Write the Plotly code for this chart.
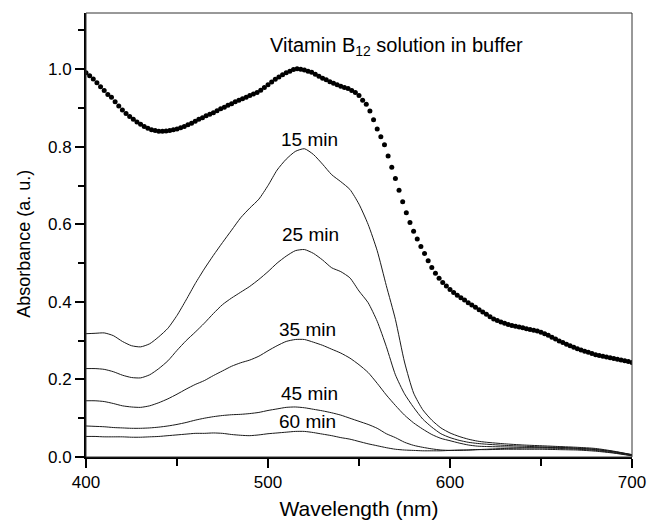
import plotly.graph_objects as go

# ---------------- data ----------------
wl_b12 = list(range(400, 701, 2))
abs_b12 = [
    0.991, 0.983, 0.975, 0.965, 0.955, 0.945, 0.935, 0.928, 0.916, 0.905,
    0.895, 0.886, 0.878, 0.871, 0.864, 0.858, 0.852, 0.848, 0.844, 0.842,
    0.840, 0.840, 0.841, 0.842, 0.844, 0.846, 0.849, 0.852, 0.857, 0.861,
    0.866, 0.871, 0.875, 0.880, 0.884, 0.888, 0.893, 0.898, 0.902, 0.907,
    0.911, 0.916, 0.920, 0.924, 0.928, 0.932, 0.936, 0.940, 0.946, 0.953,
    0.960, 0.967, 0.974, 0.980, 0.986, 0.991, 0.995, 0.999, 1.001, 1.000,
    0.998, 0.995, 0.992, 0.987, 0.982, 0.977, 0.973, 0.968, 0.964, 0.960,
    0.956, 0.953, 0.950, 0.945, 0.940, 0.932, 0.920, 0.910, 0.892, 0.870,
    0.846, 0.826, 0.805, 0.776, 0.747, 0.718, 0.688, 0.658, 0.630, 0.605,
    0.582, 0.562, 0.543, 0.525, 0.506, 0.489, 0.474, 0.461, 0.450, 0.441,
    0.432, 0.424, 0.417, 0.411, 0.405, 0.398, 0.392, 0.386, 0.380, 0.374,
    0.368, 0.362, 0.356, 0.352, 0.348, 0.345, 0.342, 0.339, 0.337, 0.335,
    0.333, 0.331, 0.329, 0.327, 0.325, 0.322, 0.318, 0.314, 0.309, 0.304,
    0.299, 0.295, 0.291, 0.287, 0.283, 0.279, 0.276, 0.273, 0.270, 0.267,
    0.264, 0.262, 0.260, 0.258, 0.256, 0.254, 0.252, 0.250, 0.248, 0.246,
    0.244, 0.242,
]

wl = [400, 405, 410, 415, 420, 425, 430, 435, 440, 445, 450, 455, 460, 465,
      470, 475, 480, 485, 490, 495, 500, 505, 510, 515, 520, 525, 530, 535,
      540, 545, 550, 555, 560, 565, 570, 575, 580, 585, 590, 595, 600, 605,
      610, 615, 620, 630, 640, 650, 660, 670, 680, 690, 700]

abs_15 = [0.318, 0.319, 0.320, 0.313, 0.298, 0.287, 0.284, 0.292, 0.310, 0.332,
          0.365, 0.405, 0.447, 0.485, 0.520, 0.553, 0.585, 0.617, 0.642, 0.665,
          0.700, 0.740, 0.768, 0.788, 0.795, 0.780, 0.755, 0.728, 0.710, 0.690,
          0.652, 0.600, 0.532, 0.442, 0.355, 0.245, 0.165, 0.122, 0.095, 0.075,
          0.062, 0.053, 0.046, 0.041, 0.038, 0.034, 0.031, 0.029, 0.027, 0.025,
          0.022, 0.015, 0.006]
abs_25 = [0.228, 0.228, 0.226, 0.220, 0.211, 0.205, 0.204, 0.212, 0.228, 0.248,
          0.275, 0.300, 0.322, 0.345, 0.370, 0.393, 0.410, 0.425, 0.440, 0.458,
          0.478, 0.500, 0.518, 0.532, 0.535, 0.525, 0.508, 0.488, 0.478, 0.462,
          0.428, 0.398, 0.350, 0.285, 0.212, 0.163, 0.128, 0.098, 0.077, 0.060,
          0.050, 0.043, 0.038, 0.035, 0.033, 0.030, 0.028, 0.026, 0.025, 0.023,
          0.020, 0.014, 0.006]
abs_35 = [0.145, 0.145, 0.143, 0.138, 0.132, 0.129, 0.128, 0.132, 0.140, 0.150,
          0.162, 0.175, 0.187, 0.197, 0.210, 0.222, 0.234, 0.243, 0.250, 0.260,
          0.274, 0.287, 0.298, 0.303, 0.303, 0.296, 0.288, 0.278, 0.268, 0.255,
          0.238, 0.218, 0.190, 0.160, 0.133, 0.108, 0.088, 0.072, 0.058, 0.048,
          0.042, 0.036, 0.031, 0.028, 0.027, 0.026, 0.025, 0.025, 0.024, 0.022,
          0.019, 0.013, 0.005]
abs_45 = [0.080, 0.079, 0.078, 0.076, 0.075, 0.074, 0.074, 0.075, 0.077, 0.080,
          0.084, 0.089, 0.095, 0.100, 0.104, 0.107, 0.109, 0.110, 0.112, 0.115,
          0.120, 0.124, 0.128, 0.129, 0.127, 0.123, 0.119, 0.114, 0.108, 0.100,
          0.092, 0.084, 0.074, 0.060, 0.050, 0.038, 0.030, 0.025, 0.021, 0.018,
          0.017, 0.017, 0.018, 0.019, 0.020, 0.022, 0.023, 0.023, 0.022, 0.020,
          0.017, 0.011, 0.004]
abs_60 = [0.053, 0.053, 0.052, 0.052, 0.052, 0.051, 0.051, 0.052, 0.053, 0.055,
          0.057, 0.059, 0.061, 0.061, 0.062, 0.061, 0.058, 0.056, 0.055, 0.057,
          0.060, 0.062, 0.064, 0.066, 0.066, 0.063, 0.059, 0.055, 0.050, 0.046,
          0.040, 0.034, 0.029, 0.024, 0.020, 0.018, 0.017, 0.016, 0.016, 0.016,
          0.017, 0.018, 0.018, 0.019, 0.019, 0.020, 0.020, 0.020, 0.019, 0.018,
          0.015, 0.010, 0.003]

series = [("15 min", abs_15), ("25 min", abs_25), ("35 min", abs_35),
          ("45 min", abs_45), ("60 min", abs_60)]

# label positions (wavelength, absorbance)
label_text = ["Vitamin B<sub>12</sub> solution in buffer", "15 min", "25 min",
              "35 min", "45 min", "60 min"]
label_x = [570.5, 523.0, 523.5, 521.5, 523.0, 521.5]
label_y = [1.058, 0.819, 0.574, 0.328, 0.163, 0.092]

# ---------------- figure ----------------
fig = go.Figure()
for name, vals in series:
    fig.add_trace(go.Scatter(x=wl, y=vals, mode="lines", name=name,
                             line=dict(color="#1a1a1a", width=1, shape="spline",
                                       smoothing=0.6)))
fig.add_trace(go.Scatter(x=wl_b12, y=abs_b12, mode="markers", name="B12",
                         marker=dict(color="black", size=5, line=dict(width=0))))

for t, x, y in zip(label_text, label_x, label_y):
    fig.add_annotation(x=x, y=y, text=t, showarrow=False,
                       font=dict(size=20 if t.startswith("Vitamin") else 19,
                                 color="black"),
                       xanchor="center", yanchor="middle")

# y-axis title placed as rotated annotation (paper coords)
fig.add_annotation(xref="paper", yref="paper", x=-0.1136, y=0.48,
                   text="Absorbance (a. u.)", textangle=-90, showarrow=False,
                   font=dict(size=18, color="black"),
                   xanchor="center", yanchor="middle")

font_family = "Liberation Sans, Arial, sans-serif"
fig.update_layout(
    width=649, height=525,
    margin=dict(l=86, r=17, t=13, b=68, autoexpand=False),
    paper_bgcolor="white", plot_bgcolor="white",
    showlegend=False,
    font=dict(family=font_family, color="black", size=17),
    shapes=[dict(type="rect", xref="paper", yref="paper", x0=0, y0=0, x1=1, y1=1,
                 line=dict(color="#333333", width=1), layer="above")],
)
fig.update_xaxes(
    range=[400, 700], tickvals=[400, 500, 600, 700],
    ticks="outside", ticklen=9, tickwidth=2, tickcolor="black",
    showline=True, linewidth=2, linecolor="black",
    showgrid=False, zeroline=False, automargin=False,
    minor=dict(tickvals=[450, 550, 650], ticks="outside", ticklen=7,
               tickwidth=2, tickcolor="black"),
    title=dict(text="Wavelength (nm)", font=dict(size=21), standoff=10),
    tickfont=dict(size=17),
)
fig.update_yaxes(
    range=[0, 1.145], tickvals=[0.0, 0.2, 0.4, 0.6, 0.8, 1.0],
    ticktext=["0.0", "0.2", "0.4", "0.6", "0.8", "1.0"],
    ticks="outside", ticklen=9, tickwidth=2, tickcolor="black",
    showline=True, linewidth=2, linecolor="black",
    showgrid=False, zeroline=False, automargin=False,
    minor=dict(tickvals=[0.1, 0.3, 0.5, 0.7, 0.9, 1.1], ticks="outside",
               ticklen=6, tickwidth=2, tickcolor="black"),
    tickfont=dict(size=17),
)

fig.write_html("out.html")
